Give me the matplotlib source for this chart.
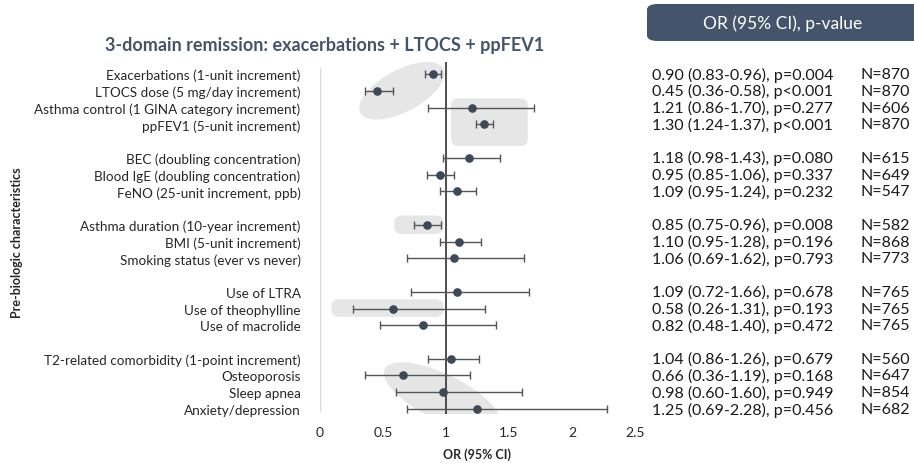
import matplotlib.pyplot as plt
import matplotlib.transforms as mtransforms
from matplotlib.patches import Ellipse, FancyBboxPatch

plt.rcParams['font.family'] = ['Lato', 'DejaVu Sans']

labels = ['Exacerbations (1-unit increment)', 'LTOCS dose (5 mg/day increment)',
          'Asthma control (1 GINA category increment)', 'ppFEV1 (5-unit increment)',
          'BEC (doubling concentration)', 'Blood IgE (doubling concentration)',
          'FeNO (25-unit increment, ppb)',
          'Asthma duration (10-year increment)', 'BMI (5-unit increment)',
          'Smoking status (ever vs never)',
          'Use of LTRA', 'Use of theophylline', 'Use of macrolide',
          'T2-related comorbidity (1-point increment)', 'Osteoporosis', 'Sleep apnea',
          'Anxiety/depression']
rows = [0, 1, 2, 3, 5, 6, 7, 9, 10, 11, 13, 14, 15, 17, 18, 19, 20]
odds = [0.90, 0.45, 1.21, 1.30, 1.18, 0.95, 1.09, 0.85, 1.10, 1.06,
        1.09, 0.58, 0.82, 1.04, 0.66, 0.98, 1.25]
low = [0.83, 0.36, 0.86, 1.24, 0.98, 0.85, 0.95, 0.75, 0.95, 0.69,
       0.72, 0.26, 0.48, 0.86, 0.36, 0.60, 0.69]
high = [0.96, 0.58, 1.70, 1.37, 1.43, 1.06, 1.24, 0.96, 1.28, 1.62,
        1.66, 1.31, 1.40, 1.26, 1.19, 1.60, 2.28]
pvals = ['p=0.004', 'p<0.001', 'p=0.277', 'p<0.001', 'p=0.080', 'p=0.337', 'p=0.232',
         'p=0.008', 'p=0.196', 'p=0.793', 'p=0.678', 'p=0.193', 'p=0.472',
         'p=0.679', 'p=0.168', 'p=0.949', 'p=0.456']
n_obs = [870, 870, 606, 870, 615, 649, 547, 582, 868, 773,
         765, 765, 765, 560, 647, 854, 682]
xticks = [0, 0.5, 1, 1.5, 2, 2.5]

slate = '#44546A'
dot = '#3D4859'
shade = '#E6E6E6'

fig = plt.figure(figsize=(9.14, 4.64), dpi=100)
ax = fig.add_axes([0.3501, 1 - 415 / 464, 0.3446, (415 - 63) / 464])
ax.set_xlim(0, 2.5)
ax.set_ylim(20.3, -0.72)

# highlight shapes behind the estimates
def ell(cx, cy, w, h, ang):
    tr = fig.dpi_scale_trans + mtransforms.ScaledTranslation(cx, cy, ax.transData)
    ax.add_patch(Ellipse((0, 0), w, h, angle=ang, transform=tr, color=shade, lw=0, zorder=0))

def box(x0, x1, y0, y1):
    ax.add_patch(FancyBboxPatch((x0, y0), x1 - x0, y1 - y0,
                                boxstyle='round,pad=0,rounding_size=0.06',
                                mutation_aspect=7.5, color=shade, lw=0, zorder=0))

ell(0.65, 1.0, 0.94, 0.42, 28)
box(1.04, 1.65, 1.45, 4.3)
box(0.59, 0.98, 8.45, 9.55)
box(0.09, 0.98, 13.45, 14.5)
ell(0.97, 19.3, 1.28, 0.46, -26)

ax.vlines(0, -0.35, 20.1, color='#D9D9D9', lw=1)
ax.axvline(1, color='#404040', lw=1.3, zorder=2)

xerr = [[o - l for o, l in zip(odds, low)], [h - o for o, h in zip(odds, high)]]
ax.errorbar(odds, rows, xerr=xerr, fmt='o', color=dot, ms=5.2,
            ecolor='#555555', elinewidth=1, capsize=3, capthick=1, zorder=3)

ax.set_yticks(rows)
ax.set_yticklabels(labels, fontsize=9.7, color='#262626')
ax.set_xticks(xticks)
ax.set_xticklabels(['0', '0.5', '1', '1.5', '2', '2.5'], fontsize=10, color='#262626')
ax.tick_params(length=0)
ax.tick_params(axis='y', pad=14)
ax.tick_params(axis='x', pad=9)
for s in ax.spines.values():
    s.set_visible(False)
ax.set_xlabel('OR (95% CI)', fontsize=9, fontweight='bold', color='#262626', labelpad=6)

fig.text(0.355, 1 - 46 / 464, '3-domain remission: exacerbations + LTOCS + ppFEV1',
         fontsize=13, fontweight='bold', color=slate, ha='center', va='center')
fig.text(17 / 914, 1 - 243 / 464, 'Pre-biologic characteristics', rotation=90,
         fontsize=9, fontweight='bold', color='#262626', ha='center', va='center')

# header of the right-hand table
fig.patches.append(FancyBboxPatch((647 / 914, 1 - 42 / 464), 400 / 914, 37 / 464,
                                  boxstyle='round,pad=0,rounding_size=0.012',
                                  transform=fig.transFigure, color=slate, lw=0))
fig.text(783 / 914, 1 - 24 / 464, 'OR (95% CI), p-value', fontsize=12.5,
         color='white', ha='center', va='center')

tr = mtransforms.blended_transform_factory(fig.transFigure, ax.transData)
for r, o, l, h, p, n in zip(rows, odds, low, high, pvals, n_obs):
    fig.text(652 / 914, r, f'{o:.2f} ({l:.2f}-{h:.2f}), {p}', transform=tr,
             fontsize=11.5, color='#1A1A1A', va='center', ha='left')
    fig.text(860 / 914, r, f'N={n}', transform=tr,
             fontsize=11.5, color='#1A1A1A', va='center', ha='left')

fig.savefig('out.png', dpi=100)
